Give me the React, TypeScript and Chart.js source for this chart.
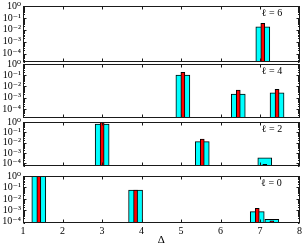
import React, { useEffect, useRef } from 'react';
import { Chart, registerables } from 'chart.js';

Chart.register(...registerables);

// ---------- data ----------
const xTickValues = [1, 2, 3, 4, 5, 6, 7, 8];
const xTickLabels = ['1', '2', '3', '4', '5', '6', '7', '8'];
const yTickValues = [1, 1e-1, 1e-2, 1e-3, 1e-4];
const yTickLabels = ['10⁰', '10⁻¹', '10⁻²', '10⁻³', '10⁻⁴'];
const xAxisTitle = 'Δ';
const panelLabels = ['ℓ = 6', 'ℓ = 4', 'ℓ = 2', 'ℓ = 0'];

// ℓ = 6
const l6Positions = [7.06];
const l6Cyan = [0.018];
const l6Red = [0.035];

// ℓ = 4
const l4Positions = [5.04, 6.44, 7.42];
const l4Cyan = [0.105, 0.0021, 0.0028];
const l4Red = [0.18, 0.0049, 0.0056];

// ℓ = 2
const l2Positions = [3.0, 5.53, 7.11];
const l2Cyan = [0.64, 0.0125, 0.00035];
const l2Red = [0.95, 0.023, 0.00008];

// ℓ = 0
const l0Positions = [1.4, 3.85, 6.93, 7.3];
const l0Cyan = [1, 0.06, 0.00078, 0.000165];
const l0Red = [1, 0.06, 0.0015, 0.00012];

// ---------- layout ----------
const W = 304;
const PAD = 8;
const Y_AXIS_W = 23;
const RIGHT_PAD = 4;
const X_AXIS_H = 22;
const SERIF = '"Liberation Serif", "DejaVu Serif", serif';

type PanelCfg = {
  positions: number[];
  cyan: number[];
  red: number[];
  label: string;
  top: number;
  bottom: number;
  yMin: number;
  showX: boolean;
};

const panels: PanelCfg[] = [
  { positions: l6Positions, cyan: l6Cyan, red: l6Red, label: panelLabels[0], top: 6, bottom: 62, yMin: Math.pow(10, -4.7), showX: false },
  { positions: l4Positions, cyan: l4Cyan, red: l4Red, label: panelLabels[1], top: 64, bottom: 118, yMin: Math.pow(10, -4.8), showX: false },
  { positions: l2Positions, cyan: l2Cyan, red: l2Red, label: panelLabels[2], top: 122, bottom: 166, yMin: Math.pow(10, -4.25), showX: false },
  { positions: l0Positions, cyan: l0Cyan, red: l0Red, label: panelLabels[3], top: 176, bottom: 223, yMin: Math.pow(10, -4.1), showX: true },
];

const framePlugin = {
  id: 'frame',
  afterDraw(chart: any, _args: any, opts: any) {
    const { ctx, chartArea: a, scales } = chart;
    const xs = scales.x;
    const ys = scales.y;
    ctx.save();
    ctx.strokeStyle = '#1a1a1a';
    ctx.lineWidth = 1;
    const L = Math.round(a.left) + 0.5;
    const R = Math.round(a.right) - 0.5;
    const T = Math.round(a.top) + 0.5;
    const B = Math.round(a.bottom) - 0.5;
    ctx.strokeRect(L, T, R - L, B - T);
    ctx.beginPath();
    for (const v of xTickValues) {
      if (v <= xs.min || v >= xs.max) continue;
      const px = Math.round(xs.getPixelForValue(v)) + 0.5;
      ctx.moveTo(px, T);
      ctx.lineTo(px, T + 3);
      ctx.moveTo(px, B);
      ctx.lineTo(px, B - 3);
    }
    for (let k = -6; k <= 0; k++) {
      for (let m = 1; m <= 9; m++) {
        const v = m * Math.pow(10, k);
        if (v < ys.min * 0.999 || v > ys.max * 1.001) continue;
        const py = Math.round(ys.getPixelForValue(v)) + 0.5;
        const len = m === 1 ? 3 : 1.5;
        ctx.moveTo(L, py);
        ctx.lineTo(L + len, py);
        ctx.moveTo(R, py);
        ctx.lineTo(R - len, py);
      }
    }
    ctx.stroke();
    ctx.fillStyle = '#000';
    ctx.font = '10px ' + SERIF;
    ctx.textAlign = 'center';
    ctx.textBaseline = 'middle';
    ctx.fillText(opts.label, a.right - 28, a.top + 7.5);
    ctx.restore();
  },
};

function Panel({ cfg }: { cfg: PanelCfg }) {
  const ref = useRef<HTMLCanvasElement>(null);
  const canvasTop = cfg.top - PAD;
  const h = cfg.showX ? 245 - canvasTop : cfg.bottom - cfg.top + 2 * PAD;

  useEffect(() => {
    const chart = new Chart(ref.current as HTMLCanvasElement, {
      type: 'bar',
      data: {
        datasets: [
          {
            label: 'red',
            data: cfg.positions.map((x, i) => ({ x, y: cfg.red[i] })),
            backgroundColor: '#ff0000',
            borderColor: '#000000',
            borderWidth: 1,
            barThickness: 4,
            grouped: false,
            order: 0,
          } as any,
          {
            label: 'cyan',
            data: cfg.positions.map((x, i) => ({ x, y: cfg.cyan[i] })),
            backgroundColor: '#00ffff',
            borderColor: '#000000',
            borderWidth: 1,
            barThickness: 14,
            grouped: false,
            order: 1,
          } as any,
        ],
      },
      options: {
        animation: false,
        responsive: false,
        devicePixelRatio: 1,
        events: [],
        layout: {
          padding: { left: 0, right: RIGHT_PAD, top: PAD, bottom: cfg.showX ? 0 : PAD },
        },
        plugins: {
          legend: { display: false },
          tooltip: { enabled: false },
          frame: { label: cfg.label },
        } as any,
        scales: {
          x: {
            type: 'linear',
            min: 1,
            max: 8,
            offset: false,
            display: cfg.showX,
            bounds: 'data',
            grid: { display: false, drawTicks: false },
            border: { display: false },
            afterBuildTicks: (s: any) => {
              s.ticks = xTickValues.map((v) => ({ value: v }));
            },
            afterFit: (s: any) => {
              s.height = cfg.showX ? X_AXIS_H : 0;
            },
            ticks: {
              autoSkip: false,
              maxRotation: 0,
              padding: 2,
              color: '#000',
              font: { family: SERIF, size: 10 },
              callback: (v: any) => xTickLabels[xTickValues.indexOf(Number(v))] ?? '',
            },
            title: {
              display: true,
              text: xAxisTitle,
              color: '#000',
              font: { family: SERIF, size: 11, lineHeight: 0.8 },
              padding: { top: 0, bottom: 0 },
            },
          } as any,
          y: {
            type: 'logarithmic',
            min: cfg.yMin,
            max: 1,
            bounds: 'data',
            grid: { display: false, drawTicks: false },
            border: { display: false },
            afterBuildTicks: (s: any) => {
              s.ticks = yTickValues.map((v) => ({ value: v }));
            },
            afterFit: (s: any) => {
              s.width = Y_AXIS_W;
            },
            ticks: {
              autoSkip: false,
              padding: 2,
              color: '#000',
              font: { family: SERIF, size: 10 },
              callback: (v: any) => {
                const i = yTickValues.findIndex((t) => Math.abs(Math.log10(t) - Math.log10(Number(v))) < 1e-6);
                return i >= 0 ? yTickLabels[i] : '';
              },
            },
          } as any,
        },
      },
      plugins: [framePlugin as any],
    });
    return () => chart.destroy();
  }, []);

  return (
    <canvas
      ref={ref}
      width={W}
      height={h}
      style={{ position: 'absolute', left: 0, top: canvasTop, width: W, height: h }}
    />
  );
}

export default function App() {
  return (
    <div style={{ position: 'absolute', left: 0, top: 0, width: W, height: 245, background: '#fff', overflow: 'hidden' }}>
      {panels.map((p, i) => (
        <Panel key={i} cfg={p} />
      ))}
    </div>
  );
}
